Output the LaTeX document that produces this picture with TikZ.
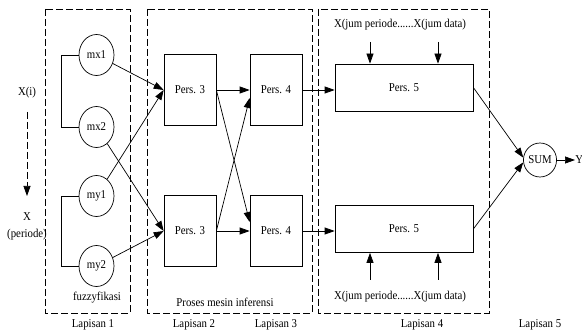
\documentclass[tikz,border=0pt]{standalone}
\usepackage{fontspec}
\setmainfont{Liberation Serif}[FakeStretch=0.9]
\usetikzlibrary{shapes.geometric,arrows.meta,calc}
\begin{document}
\begin{tikzpicture}[x=1pt,y=-1pt,
  font=\fontsize{12}{14}\selectfont,
  line width=0.7pt,
  memb/.style={draw,ellipse,minimum width=35pt,minimum height=41pt,inner sep=0pt},
  pers/.style={draw,rectangle,minimum width=52pt,minimum height=71pt,inner sep=0pt},
  perswide/.style={draw,rectangle,minimum width=138pt,minimum height=47pt,inner sep=0pt},
  layer/.style={dash pattern=on 7pt off 3pt},
  arr/.style={-{Triangle[length=10pt,width=7pt]}},
  lbl/.style={inner sep=0pt}]
\useasboundingbox (0,0) rectangle (582,334);

% layer frames
\draw[layer] (45,9) rectangle (130,313);
\draw[layer] (147,9) rectangle (312,313);
\draw[layer] (318,9) rectangle (489,313);

% input labels
\node[lbl] (xi) at (27,93) {X(i)};
\coordinate (xdtop) at (27,112);
\coordinate (xdbot) at (27,196);
\draw[arr,layer] (xdtop) -- (xdbot);
\node[lbl] (xp) at (27,217) {X};
\node[lbl] (xper) at (27,235) {(periode)};

% membership functions
\node[memb] (mx1) at (96.5,55) {mx1};
\node[memb] (mx2) at (96.5,127) {mx2};
\node[memb] (my1) at (96.5,196) {my1};
\node[memb] (my2) at (96.5,266) {my2};
\draw (mx1.west) -- ++(-17,0) |- (mx2.west);
\draw (my1.west) -- ++(-17,0) |- (my2.west);

% rule layers
\node[pers] (p3a) at (190,90) {Pers. 3};
\node[pers] (p3b) at (190,231) {Pers. 3};
\node[pers] (p4a) at (276,90) {Pers. 4};
\node[pers] (p4b) at (276,231) {Pers. 4};

\draw[arr] (mx1) -- (p3a.west);
\draw[arr] (my1) -- (p3a.west);
\draw[arr] (mx2) -- (p3b.west);
\draw[arr] (my2) -- (p3b.west);

\draw[arr] (p3a.east) -- (p4a.west);
\draw[arr] (p3b.east) -- (p4b.west);
\draw[arr] (p3a.east) -- ($(p4b.west)+(0,-9)$);
\draw[arr] (p3b.east) -- ($(p4a.west)+(0,8)$);

% output layer
\node[perswide] (p5a) at (404,87.5) {Pers. 5};
\node[perswide] (p5b) at (404,229) {Pers. 5};
\draw[arr] (p4a.east) -- (p4a.east -| p5a.west);
\draw[arr] (p4b.east) -- (p4b.east -| p5b.west);

\node[lbl] (xja) at (400,25) {X(jum periode......X(jum data)};
\node[lbl] (xjb) at (400,297) {X(jum periode......X(jum data)};
\coordinate (ta1) at (370,42);
\coordinate (ta2) at (438,42);
\coordinate (tb1) at (370,280);
\coordinate (tb2) at (438,280);
\draw[arr] (ta1) -- (ta1 |- p5a.north);
\draw[arr] (ta2) -- (ta2 |- p5a.north);
\draw[arr] (tb1) -- (tb1 |- p5b.south);
\draw[arr] (tb2) -- (tb2 |- p5b.south);

% summation
\node[draw,ellipse,minimum width=32pt,minimum height=34pt,inner sep=0pt] (sum) at (540,160) {SUM};
\draw[arr] (p5a.east) -- (sum.172);
\draw[arr] (p5b.east) -- (sum.188);
\node[lbl,anchor=west] (y) at (575,160) {Y};
\draw[arr] (sum.east) -- (y.west);

% captions
\node[lbl] (fz) at (97,298) {fuzzyfikasi};
\node[lbl] (pm) at (225,302) {Proses mesin inferensi};
\node[lbl] (l1) at (93,325) {Lapisan 1};
\node[lbl] (l2) at (194,325) {Lapisan 2};
\node[lbl] (l3) at (276,325) {Lapisan 3};
\node[lbl] (l4) at (422,325) {Lapisan 4};
\node[lbl] (l5) at (540,325) {Lapisan 5};
\end{tikzpicture}
\end{document}
